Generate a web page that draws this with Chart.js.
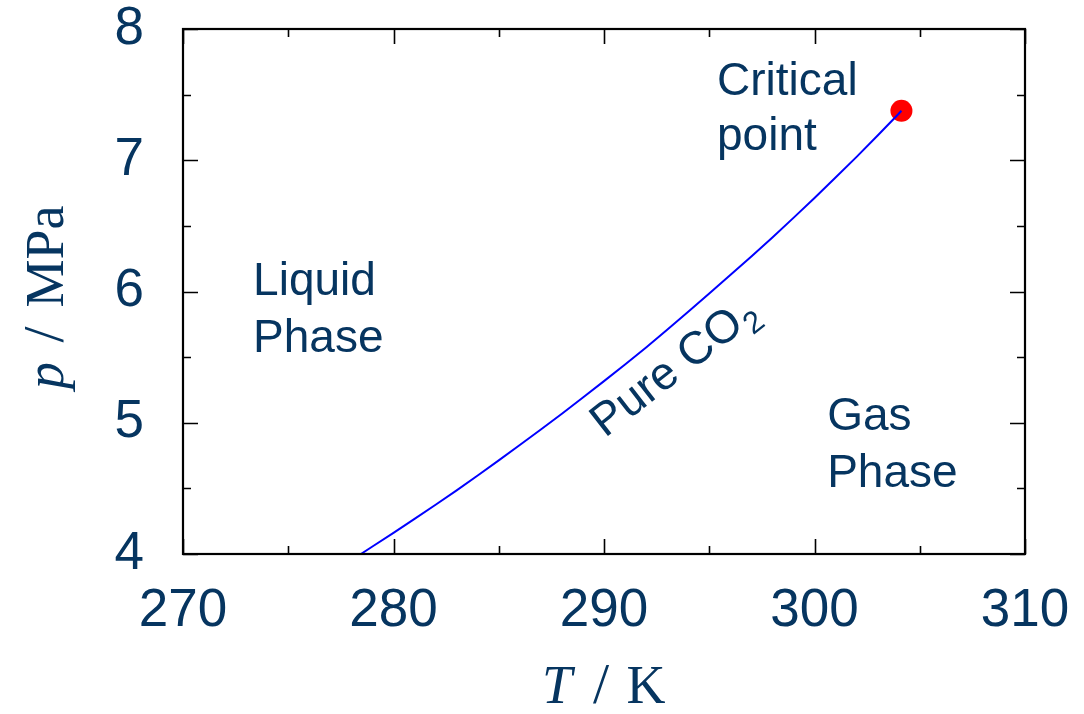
<!DOCTYPE html>
<html>
<head>
<meta charset="utf-8">
<script src="https://cdn.jsdelivr.net/npm/chart.js@4/dist/chart.umd.min.js"></script>
<style>
  html, body { margin: 0; padding: 0; background: #ffffff; }
  #wrap { width: 1084px; height: 714px; }
</style>
</head>
<body>
<div id="wrap"><canvas id="c" width="1084" height="714"></canvas></div>
<script>
// Saturation (vapour–liquid) line of pure CO2
const temperatureK = [278.45, 279, 280, 281, 282, 283, 284, 285, 286, 287, 288, 289, 290, 291, 292,
                      293, 294, 295, 296, 297, 298, 299, 300, 301, 302, 303, 304, 304.13];
const pressureMPa  = [4.000, 4.057, 4.161, 4.267, 4.375, 4.485, 4.598, 4.713, 4.830, 4.949, 5.069, 5.192, 5.317, 5.444, 5.574,
                      5.709, 5.845, 5.985, 6.125, 6.267, 6.412, 6.561, 6.713, 6.868, 7.026, 7.188, 7.354, 7.377];

// Critical point
const criticalT = 304.13;
const criticalP = 7.377;

// Axis ranges and tick labels
const xTicks = [270, 280, 290, 300, 310];
const yTicks = [4, 5, 6, 7, 8];

const NAVY = '#063560';
const SANS = '"Liberation Sans", Arial, sans-serif';
const SERIF = '"Liberation Serif", "Times New Roman", serif';

const curvePoints = temperatureK.map((t, i) => ({ x: t, y: pressureMPa[i] }));

// Frame with inward major/minor ticks on all four sides
const framePlugin = {
  id: 'frame',
  afterDatasetsDraw(chart) {
    const { ctx, chartArea: a, scales } = chart;
    const xs = scales.x, ys = scales.y;
    ctx.save();
    ctx.strokeStyle = '#000000';
    ctx.lineWidth = 1.6;
    ctx.beginPath();
    const majorLen = 15, minorLen = 8;
    for (let i = 0; i < xTicks.length; i++) {
      const vals = [[xTicks[i], majorLen]];
      if (i < xTicks.length - 1) vals.push([(xTicks[i] + xTicks[i + 1]) / 2, minorLen]);
      vals.forEach(([v, len]) => {
        const px = Math.round(xs.getPixelForValue(v)) + 0.5;
        ctx.moveTo(px, a.bottom); ctx.lineTo(px, a.bottom - len);
        ctx.moveTo(px, a.top); ctx.lineTo(px, a.top + len);
      });
    }
    for (let i = 0; i < yTicks.length; i++) {
      const vals = [[yTicks[i], majorLen]];
      if (i < yTicks.length - 1) vals.push([(yTicks[i] + yTicks[i + 1]) / 2, minorLen]);
      vals.forEach(([v, len]) => {
        const py = Math.round(ys.getPixelForValue(v)) + 0.5;
        ctx.moveTo(a.left, py); ctx.lineTo(a.left + len, py);
        ctx.moveTo(a.right, py); ctx.lineTo(a.right - len, py);
      });
    }
    ctx.stroke();
    ctx.lineWidth = 2.2;
    ctx.strokeRect(a.left, a.top, a.right - a.left, a.bottom - a.top);
    ctx.restore();
  }
};

// Draws pieces of a title, each centred at its own offset along the baseline
function drawPieces(ctx, pieces, baseY) {
  ctx.textAlign = 'center';
  pieces.forEach(p => {
    ctx.font = p.font;
    ctx.fillText(p.text, p.at, baseY);
  });
  ctx.textAlign = 'left';
}

// Axis titles and region labels
const labelPlugin = {
  id: 'labels',
  afterDraw(chart) {
    const { ctx, chartArea: a, scales } = chart;
    const xs = scales.x, ys = scales.y;
    ctx.save();
    ctx.fillStyle = NAVY;
    ctx.textBaseline = 'alphabetic';
    ctx.textAlign = 'left';

    const italic = 'italic 54px ' + SERIF;
    const upright = '54px ' + SERIF;
    const slash = '58px ' + SERIF;

    // x title: T / K
    const cx = (a.left + a.right) / 2;
    drawPieces(ctx, [
      { text: 'T', font: italic, at: cx - 47 },
      { text: '/', font: slash, at: cx - 3 },
      { text: 'K', font: upright, at: cx + 42 }
    ], 703);

    // y title: p / MPa (rotated)
    ctx.save();
    ctx.translate(63, (a.top + a.bottom) / 2);
    ctx.rotate(-Math.PI / 2);
    drawPieces(ctx, [
      { text: 'p', font: italic, at: -84 },
      { text: '/', font: slash, at: -43 },
      { text: 'MPa', font: upright, at: 35 }
    ], 0);
    ctx.restore();

    // Region labels
    ctx.font = '46px ' + SANS;
    const put = (txt, t, p) => ctx.fillText(txt, xs.getPixelForValue(t), ys.getPixelForValue(p));
    put('Critical', 295.37, 7.494);
    put('point', 295.37, 7.075);
    put('Liquid', 273.33, 5.970);
    put('Phase', 273.33, 5.536);
    put('Gas', 300.60, 4.942);
    put('Phase', 300.60, 4.508);

    // Curve label, rotated along the line
    ctx.save();
    ctx.translate(xs.getPixelForValue(290.05), ys.getPixelForValue(4.881));
    ctx.rotate(-38 * Math.PI / 180);
    ctx.font = '46px ' + SANS;
    const main = 'Pure CO';
    ctx.fillText(main, 0, 0);
    const w = ctx.measureText(main).width;
    ctx.font = '31px ' + SANS;
    ctx.fillText('2', w + 1, 10);
    ctx.restore();

    ctx.restore();
  }
};

const tickFont = { family: SANS, size: 53, lineHeight: 1 };

// Fixed scale footprints so the plotting area keeps its place
function fixBox(size, dim) {
  return s => {
    s[dim] = size;
    s.paddingTop = 0; s.paddingBottom = 0; s.paddingLeft = 0; s.paddingRight = 0;
  };
}

new Chart(document.getElementById('c'), {
  type: 'scatter',
  data: {
    datasets: [
      {
        label: 'Pure CO2',
        data: curvePoints,
        showLine: true,
        borderColor: '#0000ff',
        borderWidth: 2,
        pointRadius: 0,
        tension: 0,
        fill: false
      },
      {
        label: 'Critical point',
        data: [{ x: criticalT, y: criticalP }],
        pointRadius: 11,
        pointHoverRadius: 11,
        backgroundColor: '#ff0000',
        borderWidth: 0,
        showLine: false
      }
    ]
  },
  options: {
    responsive: false,
    animation: false,
    events: [],
    layout: { padding: { left: 0, top: 29, right: 59, bottom: 0 } },
    plugins: {
      legend: { display: false },
      tooltip: { enabled: false },
      title: { display: false }
    },
    scales: {
      x: {
        type: 'linear',
        min: xTicks[0],
        max: xTicks[xTicks.length - 1],
        afterBuildTicks: s => { s.ticks = xTicks.map(v => ({ value: v })); },
        afterFit: fixBox(160, 'height'),
        grid: { display: false, drawTicks: false },
        border: { display: false },
        ticks: { color: NAVY, font: tickFont, padding: 31, maxRotation: 0, autoSkip: false }
      },
      y: {
        type: 'linear',
        min: yTicks[0],
        max: yTicks[yTicks.length - 1],
        afterBuildTicks: s => { s.ticks = yTicks.map(v => ({ value: v })); },
        afterFit: fixBox(183, 'width'),
        grid: { display: false, drawTicks: false },
        border: { display: false },
        ticks: { color: NAVY, font: tickFont, padding: 39, autoSkip: false }
      }
    }
  },
  plugins: [framePlugin, labelPlugin]
});
</script>
</body>
</html>
